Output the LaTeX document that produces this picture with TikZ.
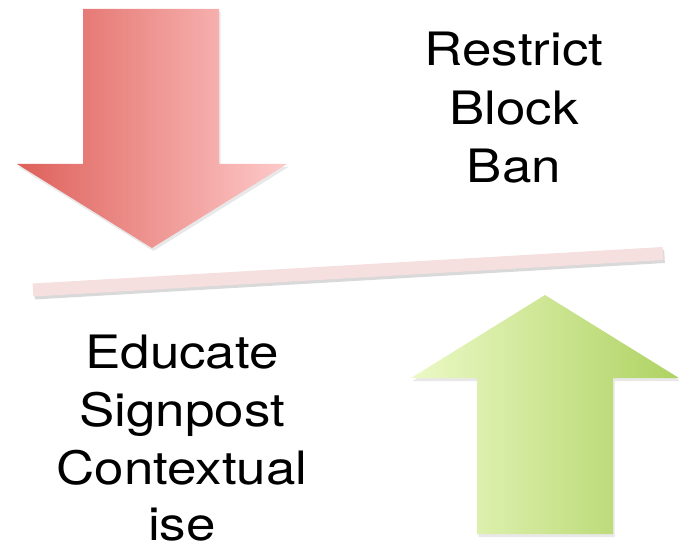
\documentclass[tikz,border=0pt]{standalone}
\usepackage{fontspec}
\setmainfont[FakeStretch=1.15]{TeX Gyre Heros}
\usetikzlibrary{shadows}
\definecolor{redL}{RGB}{222,96,90}
\definecolor{redR}{RGB}{254,202,202}
\definecolor{greenL}{RGB}{236,249,198}
\definecolor{greenR}{RGB}{174,210,98}
\definecolor{barcol}{RGB}{245,223,223}
\tikzset{
  arrowshadow/.style={drop shadow={opacity=0.18, shadow xshift=1.5pt, shadow yshift=-3pt}},
  lbl/.style={anchor=base, inner sep=0pt, font=\fontsize{46}{58}\selectfont, text=black},
}
\begin{document}
\begin{tikzpicture}[x=1pt,y=-1pt]
\useasboundingbox (0,0) rectangle (679,545);
% red down arrow
\path[arrowshadow, left color=redL, right color=redR]
  (83,9) -- (219,9) -- (219,164) -- (287,164) -- (152,248) -- (17,164) -- (83,164) -- cycle;
% green up arrow
\path[arrowshadow, left color=greenL, right color=greenR]
  (477,534) -- (613,534) -- (613,378) -- (679,378) -- (545,295) -- (411,378) -- (477,378) -- cycle;
% divider bar
\coordinate (barL) at (33,290);
\coordinate (barR) at (663,253.5);
\draw[line width=13pt, black, opacity=0.15] ([xshift=1.5pt,yshift=-3pt]barL) -- ([xshift=1.5pt,yshift=-3pt]barR);
\draw[line width=13pt, barcol] (barL) -- (barR);
% texts
\node[lbl] (t1) at (514,66) {Restrict};
\node[lbl] (t2) at (514,124.5) {Block};
\node[lbl] (t3) at (514,183) {Ban};
\node[lbl] (b1) at (182,368) {Educate};
\node[lbl] (b2) at (182,426) {Signpost};
\node[lbl] (b3) at (182,484.5) {Contextual};
\node[lbl] (b4) at (182,540.5) {ise};
\end{tikzpicture}
\end{document}
